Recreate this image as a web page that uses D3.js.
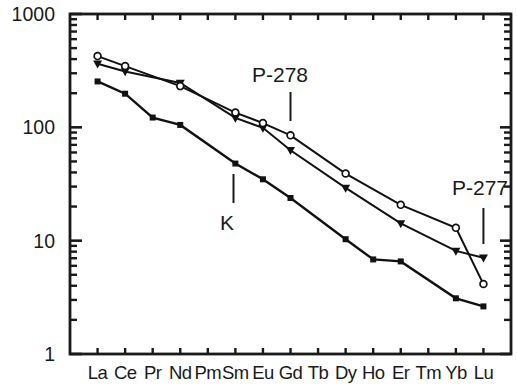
<!DOCTYPE html>
<html><head><meta charset="utf-8">
<script src="https://cdn.jsdelivr.net/npm/d3@7"></script>
<style>body{margin:0;background:#fff}svg{display:block}</style>
</head><body><svg id="c" width="517" height="390"></svg>
<script>
const elements = ["La","Ce","Pr","Nd","Pm","Sm","Eu","Gd","Tb","Dy","Ho","Er","Tm","Yb","Lu"];
const yTicks = [1,10,100,1000];
// null = not analysed
const p278 = [425,347,null,231,null,135,109,85,null,39.1,null,20.7,null,12.97,4.14];
const p277 = [364,311,null,246,null,121,99,62.7,null,29.2,null,14.2,null,8.13,7.06];
const kSeries = [254,198,122,105,null,47.9,34.8,23.8,null,10.3,6.83,6.56,null,3.1,2.63];

const svg = d3.select("#c");
const L=70, R=511, T=14, B=354;
const x = d3.scalePoint().domain(elements).range([L,R]).padding(1);
const y = d3.scaleLog().domain([1,1000]).range([B,T]);
const fontMain = "'Liberation Sans', Arial, Helvetica, sans-serif";
const ink = "#1a1a1a";

const minor = [];
for (let d=1; d<1000; d*=10) for (let m=2;m<=9;m++) minor.push(d*m);

const g = svg.append("g");
function hTicks(vals, x0, len, w){
  g.append("g").selectAll("line").data(vals).join("line")
   .attr("x1",x0).attr("x2",x0+len).attr("y1",d=>y(d)).attr("y2",d=>y(d))
   .attr("stroke",ink).attr("stroke-width",w);
}
hTicks(yTicks, L, 12, 2.6); hTicks(minor, L, 7, 2.4);
hTicks(yTicks, R, -11, 2.6); hTicks(minor, R, -7, 2.4);
function vTicks(y0, len){
  g.append("g").selectAll("line").data(elements).join("line")
   .attr("x1",d=>x(d)).attr("x2",d=>x(d)).attr("y1",y0).attr("y2",y0+len)
   .attr("stroke",ink).attr("stroke-width",2.4);
}
vTicks(T, 6); vTicks(B, -6);

// frame
g.append("rect").attr("x",L).attr("y",T).attr("width",R-L).attr("height",B-T)
 .attr("fill","none").attr("stroke",ink).attr("stroke-width",2.8);

// y labels
g.selectAll("text.yl").data(yTicks).join("text").attr("class","yl")
 .attr("x",55).attr("y",d=>y(d)+7).attr("text-anchor","end")
 .attr("font-family",fontMain).attr("font-size",19.5).attr("fill",ink).text(d=>d);
// x labels
g.selectAll("text.xl").data(elements).join("text").attr("class","xl")
 .attr("x",d=>x(d)).attr("y",379).attr("text-anchor","middle")
 .attr("font-family",fontMain).attr("font-size",18.5).attr("fill",ink)
 .attr("letter-spacing",-0.6).text(d=>d);

const line = d3.line().x(d=>x(d.e)).y(d=>y(d.v));
function series(vals){ return elements.map((e,i)=>({e,v:vals[i]})).filter(d=>d.v!=null); }
[kSeries,p277,p278].forEach((vals,i)=>{
  g.append("path").datum(series(vals)).attr("d",line).attr("fill","none")
   .attr("stroke","#111").attr("stroke-width",i===0?2.4:2);
});
// markers
g.selectAll("rect.k").data(series(kSeries)).join("rect").attr("class","k")
 .attr("x",d=>x(d.e)-3).attr("y",d=>y(d.v)-3).attr("width",6).attr("height",6).attr("fill","#111");
g.selectAll("path.t").data(series(p277)).join("path").attr("class","t")
 .attr("d",d=>{const cx=x(d.e),cy=y(d.v);return `M${cx-4.5},${cy-3.2}L${cx+4.5},${cy-3.2}L${cx},${cy+4.8}Z`;}).attr("fill","#111");
g.selectAll("circle.c").data(series(p278)).join("circle").attr("class","c")
 .attr("cx",d=>x(d.e)).attr("cy",d=>y(d.v)).attr("r",3.4).attr("fill","#fff").attr("stroke","#111").attr("stroke-width",1.7);

// annotations
function ann(text,tx,ty,anchor,lx,y1,y2){
  g.append("text").attr("x",tx).attr("y",ty).attr("text-anchor",anchor)
   .attr("font-family",fontMain).attr("font-size",21).attr("fill",ink).text(text);
  g.append("line").attr("x1",lx).attr("x2",lx).attr("y1",y1).attr("y2",y2).attr("stroke",ink).attr("stroke-width",2);
}
ann("P-278",280,82,"middle",x("Gd"),92,121);
ann("K",227,230,"middle",233.5,174,203);
ann("P-277",508,195,"end",x("Lu"),208,244);
</script></body></html>
